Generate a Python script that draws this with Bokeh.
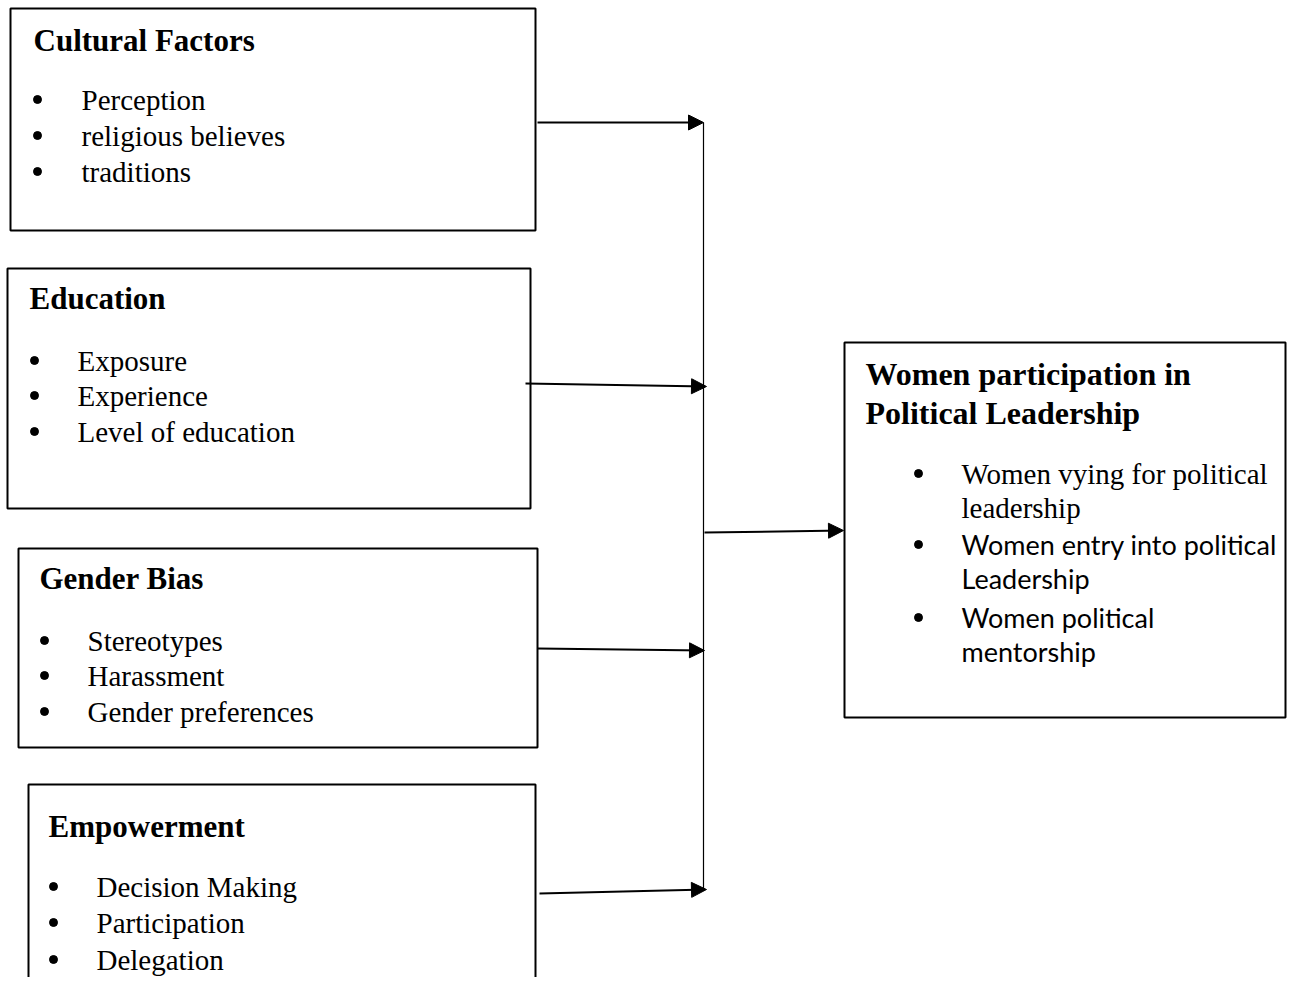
from bokeh.plotting import figure
from bokeh.models import Range1d, Arrow, NormalHead
from bokeh.core.properties import value
from bokeh.embed import file_html
from bokeh.resources import INLINE

# ---- content ----
box_titles = ["Cultural Factors", "Education", "Gender Bias", "Empowerment"]
box_items = [
    ["Perception", "religious believes", "traditions"],
    ["Exposure", "Experience", "Level of education"],
    ["Stereotypes", "Harassment", "Gender preferences"],
    ["Decision Making", "Participation", "Delegation"],
]
outcome_title = ["Women participation in", "Political Leadership"]
outcome_items = [
    ["Women vying for political", "leadership"],
    ["Women entry into political", "Leadership"],
    ["Women political", "mentorship"],
]
outcome_item_fonts = ["Liberation Serif", "Lato", "Lato"]

# ---- layout (pixel coordinates of the page, y downwards) ----
boxes = [  # left, top, right, bottom
    (10, 8, 535, 230),
    (7, 268, 530, 508),
    (18, 548, 537, 747),
    (28, 784, 535, 1010),
]
title_pos = [(33, 40), (29, 298), (39, 578), (48, 826)]
bullet_x = [37, 34, 44, 53]
item_x = [81, 77, 87, 96]
item_mid = [[99, 135, 171], [360, 395, 431], [640, 675, 711], [886, 922, 959]]

out_box = (844, 342, 1285, 717)
out_title_pos = [(865, 373), (865, 412)]
out_bullet_x = 918
out_item_x = 961
out_item_mid = [[473, 507], [544, 578], [617, 651]]

arrows = [  # x0, y0, x1, y1
    (537, 122, 703, 122),
    (525, 383, 706, 386),
    (537, 648, 704, 650),
    (539, 893, 706, 889),
    (704, 532, 843, 530),
]
spine = (703, 122, 703, 890)

W, H = 1287, 977
p = figure(width=W, height=H, output_backend="svg", toolbar_location=None,
           x_range=Range1d(0, W), y_range=Range1d(H, 0),
           min_border=0, outline_line_color=None)
p.axis.visible = False
p.grid.visible = False
p.background_fill_color = "white"

# boxes
allb = boxes + [out_box]
p.quad(left=[b[0] for b in allb], top=[b[1] for b in allb],
       right=[b[2] for b in allb], bottom=[b[3] for b in allb],
       fill_color=None, line_color="black", line_width=2)

SERIF = value("Liberation Serif")

# titles
p.text(x=[t[0] for t in title_pos], y=[t[1] for t in title_pos], text=box_titles,
       text_font=SERIF, text_font_style="bold", text_font_size="31px",
       text_baseline="middle", text_color="black")
p.text(x=[t[0] for t in out_title_pos], y=[t[1] for t in out_title_pos],
       text=outcome_title, text_font=SERIF, text_font_style="bold",
       text_font_size="32px", text_baseline="middle", text_color="black")

# left-box bullets and items
bx, by, ix, iy, it = [], [], [], [], []
for k in range(4):
    for j, item in enumerate(box_items[k]):
        bx.append(bullet_x[k]); by.append(item_mid[k][j])
        ix.append(item_x[k]); iy.append(item_mid[k][j]); it.append(item)
p.text(x=ix, y=iy, text=it, text_font=SERIF, text_font_size="29px",
       text_baseline="middle", text_color="black")

# outcome bullets and items
for k, lines in enumerate(outcome_items):
    mids = out_item_mid[k]
    bx.append(out_bullet_x); by.append(mids[0])
    p.text(x=[out_item_x] * len(lines), y=mids, text=lines,
           text_font=value(outcome_item_fonts[k]),
           text_font_size="29px" if k == 0 else "27px",
           text_baseline="middle", text_color="black")

p.scatter(x=bx, y=by, size=8, marker="circle", fill_color="black", line_color="black")

# spine
p.segment(x0=[spine[0]], y0=[spine[1]], x1=[spine[2]], y1=[spine[3]],
          line_color="black", line_width=1.2)

# arrows
for (x0, y0, x1, y1) in arrows:
    p.add_layout(Arrow(x_start=x0, y_start=y0, x_end=x1, y_end=y1,
                       line_color="black", line_width=2,
                       end=NormalHead(size=15, fill_color="black", line_color="black")))

open("out.html", "w").write(file_html(p, INLINE))
